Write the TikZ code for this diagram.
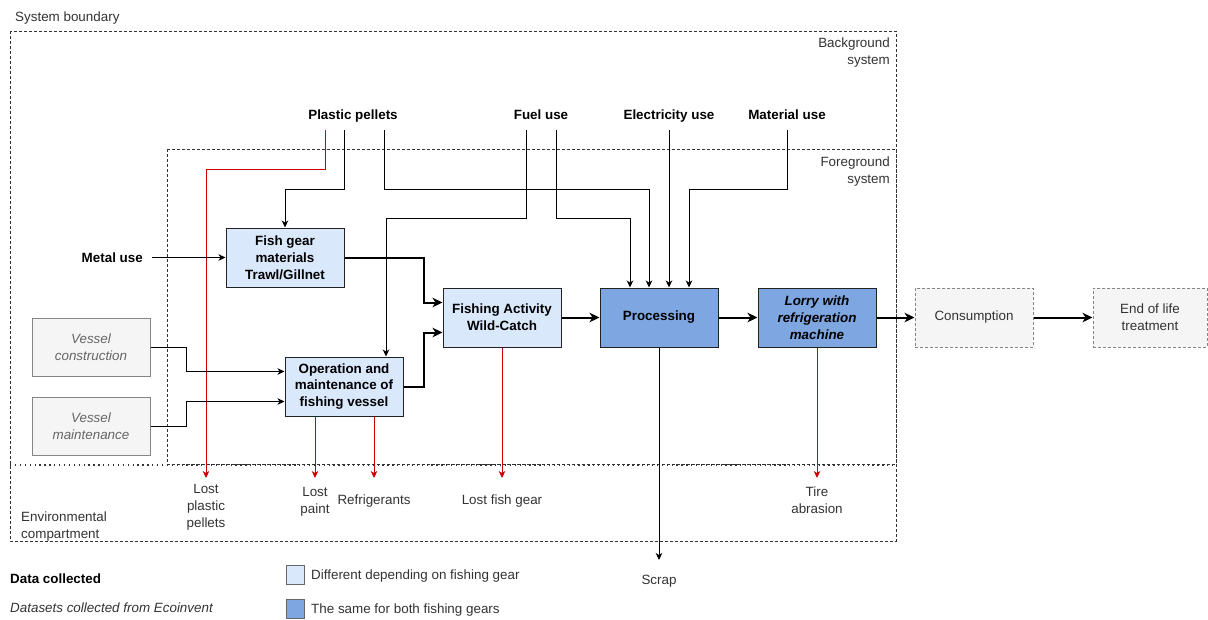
\documentclass[tikz,border=0pt]{standalone}
\usepackage{fontspec}
\setmainfont{Liberation Sans}
\usetikzlibrary{arrows.meta}
\definecolor{lblue}{HTML}{DAE8FC}
\definecolor{dblue}{HTML}{7EA6E0}
\definecolor{gfill}{HTML}{F5F5F5}
\definecolor{gtext}{HTML}{666666}
\definecolor{dtext}{HTML}{333333}
\definecolor{bline}{HTML}{222222}
\definecolor{redl}{HTML}{CC0000}
\begin{document}
\begin{tikzpicture}[x=1pt,y=-1pt,
  every node/.style={font=\fontsize{13.4}{16.8}\selectfont, inner sep=0pt},
  bound/.style={draw=dtext, line width=0.8pt, dash pattern=on 3pt off 2pt},
  envline/.style={draw=dtext, line width=1.3pt, dash pattern=on 1.3pt off 3.6pt},
  inp/.style={font=\fontsize{13.4}{16.8}\selectfont\bfseries, text height=10pt, text depth=3pt, minimum height=28pt},
  procbox/.style={draw=bline, line width=1pt, minimum width=118pt, minimum height=59pt, align=center, font=\fontsize{13.4}{16.8}\selectfont\bfseries},
  lightbox/.style={procbox, fill=lblue},
  darkbox/.style={procbox, fill=dblue},
  vesbox/.style={draw=gtext!80, line width=1pt, fill=gfill, minimum width=118pt, minimum height=58pt, align=center, text=gtext, font=\fontsize{13.4}{16.8}\selectfont\itshape},
  extbox/.style={draw=gtext!80, line width=1pt, dash pattern=on 3pt off 2pt, fill=gfill, minimum width=118pt, minimum height=59pt, align=center, text=dtext},
  lbl/.style={align=center, text=dtext},
  arr/.style={draw=black, line width=0.9pt, -{Stealth[length=7pt,width=6.5pt,inset=2pt]}},
  thickarr/.style={draw=black, line width=2pt, -{Stealth[length=10pt,width=9.5pt,inset=3pt]}},
  redarr/.style={draw=redl, line width=0.9pt, -{Stealth[length=7pt,width=6.5pt,inset=2pt]}},
  legsq/.style={draw=gtext, line width=1pt, minimum width=18pt, minimum height=19pt}
]
\useasboundingbox (0,0) rectangle (1208,619);
\fill[white] (0,0) rectangle (1208,619);

% boundaries
\draw[bound] (10,31) rectangle (896,541);
\draw[bound] (167,149) rectangle (896,464);
\draw[envline] (10,465) -- (896,465);

\node[anchor=west, text=dtext] (sb) at (15,18) {System boundary};
\node[anchor=north east, align=right, text=dtext] (bs) at (890,38) {Background\\system};
\node[anchor=north east, align=right, text=dtext] (fs) at (890,157) {Foreground\\system};
\node[anchor=west, align=left, text=dtext] (ec) at (21,526.5) {Environmental\\compartment};

% inputs
\node[inp] (pp) at (353,116) {Plastic pellets};
\node[inp] (fu) at (541,116) {Fuel use};
\node[inp] (eu) at (669,116) {Electricity use};
\node[inp] (mu) at (787,116) {Material use};
\node[inp, anchor=east, inner xsep=9pt, minimum height=0pt] (metal) at (152,259) {Metal use};

% process boxes
\node[lightbox] (fg) at (285,257.5) {Fish gear\\materials\\Trawl/Gillnet};
\node[lightbox] (op) at (344,386.5) {Operation and\\maintenance of\\fishing vessel};
\node[lightbox] (fa) at (502,317.5) {Fishing Activity\\Wild-Catch};
\node[darkbox] (proc) at (659,317.5) {Processing};
\node[darkbox, font=\fontsize{13.4}{16.8}\selectfont\bfseries\itshape] (lorry) at (817,317.5) {Lorry with\\refrigeration\\machine};
\node[extbox] (cons) at (974,317.5) {Consumption};
\node[extbox, minimum width=114pt] (eol) at (1150,317.5) {End of life\\treatment};
\node[vesbox] (vc) at (91,347) {Vessel\\construction};
\node[vesbox] (vm) at (91,426) {Vessel\\maintenance};

% outputs
\node[lbl, anchor=north] (lpp) at (206,484) {Lost\\plastic\\pellets};
\node[lbl, anchor=north] (lpaint) at (315,487) {Lost\\paint};
\node[lbl, anchor=north] (ref) at (374,495) {Refrigerants};
\node[lbl, anchor=north] (lfg) at (502,495) {Lost fish gear};
\node[lbl, anchor=north] (scrap) at (659,575) {Scrap};
\node[lbl, anchor=north] (tire) at (817,487) {Tire\\abrasion};

% legend
\node[anchor=west, font=\fontsize{13.4}{16.8}\selectfont\bfseries] (dc) at (10,579) {Data collected};
\node[anchor=west, font=\fontsize{13.4}{16.8}\selectfont\itshape, text=dtext] (de) at (10,608) {Datasets collected from Ecoinvent};
\node[legsq, fill=lblue] (lsq1) at (295,574.5) {};
\node[legsq, fill=dblue] (lsq2) at (295,608.5) {};
\node[anchor=west, text=dtext] (lt1) at (311,576) {Different depending on fishing gear};
\node[anchor=west, text=dtext] (lt2) at (311,610) {The same for both fishing gears};

% input connectors
\draw[redarr] ([xshift=-28pt]pp.south) -- ++(0,39) -| ([yshift=6pt]lpp.north);
\draw[arr] ([xshift=-9pt]pp.south) -- ++(0,59) -| (fg.north);
\draw[arr] ([xshift=31pt]pp.south) -- ++(0,59) -| ([xshift=-10pt]proc.north);
\draw[arr] ([xshift=-15pt]fu.south) -- ++(0,88) -| ([xshift=42pt]op.north);
\draw[arr] ([xshift=15pt]fu.south) -- ++(0,88) -| ([xshift=-29pt]proc.north);
\draw[arr] (eu.south) -- ([xshift=10pt]proc.north);
\draw[arr] (mu.south) -- ++(0,59) -| ([xshift=30pt]proc.north);
\draw[arr] (metal.east |- fg.west) -- (fg.west);
\draw[arr] (vc.east) -- ++(36,0) |- ([yshift=15pt]op.west);
\draw[arr] (vm.east) -- ++(36,0) |- ([yshift=-15pt]op.west);

% main flow
\draw[thickarr] (fg.east) -- ++(79,0) |- ([yshift=15pt]fa.west);
\draw[thickarr] (op.east) -- ++(20,0) |- ([yshift=-15pt]fa.west);
\draw[thickarr] (fa.east) -- (proc.west);
\draw[thickarr] (proc.east) -- (lorry.west);
\draw[thickarr] (lorry.east) -- (cons.west);
\draw[thickarr] (cons.east) -- (eol.west);

% output connectors
\draw[redarr] (lpaint.north |- op.south) -- ([yshift=9pt]lpaint.north);
\draw[redarr] (ref.north |- op.south) -- ([yshift=17pt]ref.north);
\draw[redarr] (fa.south) -- ([yshift=17pt]lfg.north);
\draw[arr] (proc.south) -- ([yshift=15pt]scrap.north);
\draw[redarr] (lorry.south) -- ([yshift=9pt]tire.north);
\end{tikzpicture}
\end{document}
